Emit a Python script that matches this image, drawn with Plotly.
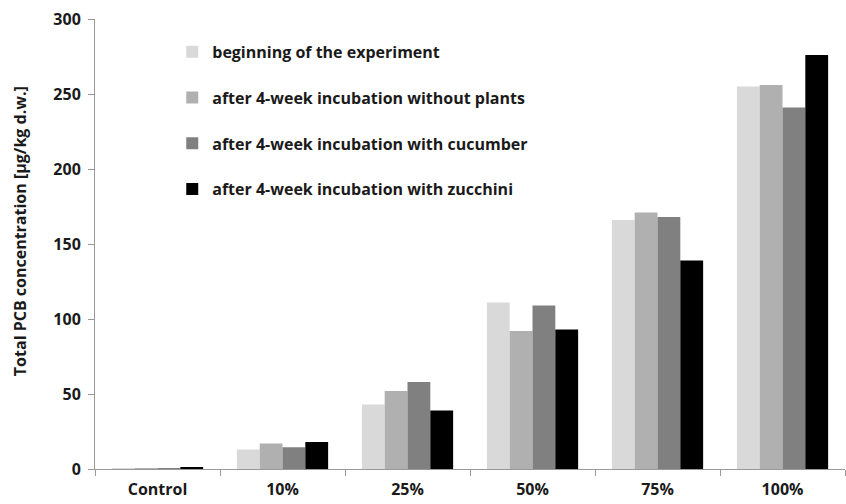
import plotly.graph_objects as go

categories = ["Control", "10%", "25%", "50%", "75%", "100%"]
series_names = [
    "beginning of the experiment",
    "after 4-week incubation without plants",
    "after 4-week incubation with cucumber",
    "after 4-week incubation with zucchini",
]
beginning = [0.3, 13, 43, 111, 166, 255]
without_plants = [0.5, 17, 52, 92, 171, 256]
with_cucumber = [0.6, 14.5, 58, 109, 168, 241]
with_zucchini = [1.0, 18, 39, 93, 139, 276]
colors = ["#d9d9d9", "#b0b0b0", "#808080", "#000000"]
y_title = "Total PCB concentration [µg/kg d.w.]"

fig = go.Figure()
for i, (name, vals) in enumerate(zip(series_names, [beginning, without_plants, with_cucumber, with_zucchini])):
    fig.add_trace(go.Bar(x=categories, y=vals, name=name, marker_color=colors[i],
                         marker_line_width=0, legendgroup=str(i)))

font_family = "Open Sans"
fs = 16
fig.update_layout(
    width=846, height=504,
    margin=dict(l=95, r=1, t=19, b=35),
    plot_bgcolor="white", paper_bgcolor="white",
    barmode="group", bargap=0.27, bargroupgap=0,
    font=dict(family=font_family, size=fs, color="#1a1a1a"),
    legend=dict(x=0.103, y=0.965, xanchor="left", yanchor="top",
                bgcolor="rgba(0,0,0,0)", tracegroupgap=22, itemwidth=30,
                font=dict(family=font_family, size=fs, color="#1a1a1a", weight="bold")),
    xaxis=dict(showline=True, linecolor="#999", linewidth=1, ticks="outside",
               tickson="boundaries", ticklen=6, tickcolor="#999", ticklabelstandoff=6,
               tickfont=dict(family=font_family, size=fs, weight="bold", color="#1a1a1a")),
    yaxis=dict(range=[0, 300], dtick=50, showline=True, linecolor="#999", linewidth=1,
               ticks="outside", ticklen=6, tickcolor="#999", showgrid=False, zeroline=False,
               ticklabelstandoff=4,
               tickfont=dict(family=font_family, size=fs, weight="bold", color="#1a1a1a")),
    annotations=[dict(text=y_title, textangle=-90, xref="paper", yref="paper",
                      x=-0.099, y=0.528, xanchor="center", yanchor="middle", showarrow=False,
                      font=dict(family=font_family, size=16, weight="bold", color="#1a1a1a"))],
)
fig.write_html("out.html", config={"displayModeBar": False},
               post_script="document.body.style.margin='0';document.body.style.overflow='hidden';")
